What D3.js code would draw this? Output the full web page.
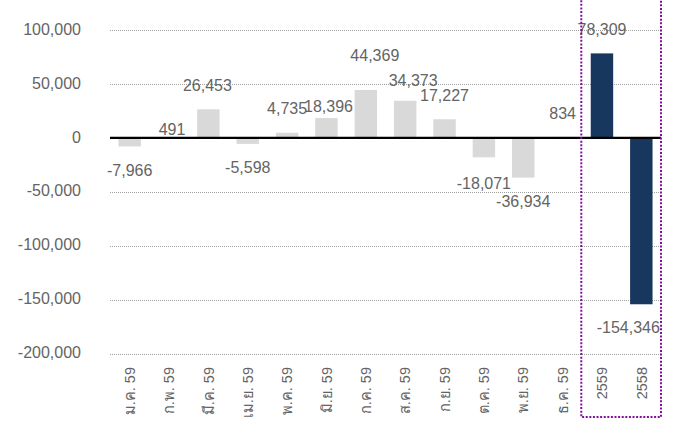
<!DOCTYPE html>
<html lang="th">
<head>
<meta charset="utf-8">
<script src="https://cdn.jsdelivr.net/npm/d3@7"></script>
<style>
  html, body { margin: 0; padding: 0; background: #ffffff; }
  svg { display: block; font-family: "Liberation Sans", Arial, "Noto Sans", sans-serif; }
</style>
</head>
<body>
<svg id="chart" width="683" height="423"></svg>
<script>
// Monthly figures for 2559 plus the two yearly totals
const categories = ["ม.ค. 59", "ก.พ. 59", "มี.ค. 59", "เม.ย. 59", "พ.ค. 59", "มิ.ย. 59",
                    "ก.ค. 59", "ส.ค. 59", "ก.ย. 59", "ต.ค. 59", "พ.ย. 59", "ธ.ค. 59",
                    "2559", "2558"];
const values = [-7966, 491, 26453, -5598, 4735, 18396, 44369, 34373, 17227, -18071, -36934, 834,
                78309, -154346];
const isTotal = [false, false, false, false, false, false, false, false, false, false, false, false,
                 true, true];
const yTicks = [100000, 50000, 0, -50000, -100000, -150000, -200000];

// Hand placement tweaks for crowded value labels: [dx, dy] in pixels
const labelNudge = [[0, 0], [3, 16], [-1, 0], [0, 0], [0, -1], [2, 12], [9, -11], [8, 3],
                    [0, 0], [0, 2], [0, 0], [0, 0], [0, 0], [-13, -1]];

const svg = d3.select("#chart");
const plotLeft = 110, plotRight = 661, plotTop = 30, plotBottom = 353.5;
const textColor = "#646464";

const x = d3.scaleBand()
  .domain(categories)
  .range([plotLeft, plotRight])
  .paddingInner(0.43)
  .paddingOuter(0.215);

const y = d3.scaleLinear()
  .domain([-200000, 100000])
  .range([plotBottom, plotTop]);

// Thousands separator with a plain hyphen for negatives
const locale = d3.formatLocale({ decimal: ".", thousands: ",", grouping: [3], currency: ["", ""], minus: "-" });
const fmt = locale.format(",");

// Dotted horizontal gridlines
svg.append("g")
  .selectAll("line")
  .data(yTicks.filter(d => d !== 0))
  .join("line")
  .attr("x1", plotLeft).attr("x2", plotRight)
  .attr("y1", d => Math.round(y(d)) + 0.5).attr("y2", d => Math.round(y(d)) + 0.5)
  .attr("stroke", "#a0a0a0")
  .attr("stroke-width", 1)
  .attr("stroke-dasharray", "1 1");

// Y axis labels
const yAxis = d3.axisLeft(y).tickValues(yTicks).tickFormat(fmt).tickSize(0).tickPadding(0);
const yg = svg.append("g").attr("transform", "translate(81,0)").call(yAxis);
yg.select(".domain").remove();
yg.selectAll("text")
  .attr("fill", textColor)
  .attr("font-size", "16px")
  .attr("font-family", "'Liberation Sans', Arial, sans-serif")
  .attr("dy", "0.26em");

// Bars
svg.append("g")
  .selectAll("rect")
  .data(values)
  .join("rect")
  .attr("x", (d, i) => x(categories[i]))
  .attr("width", x.bandwidth())
  .attr("y", d => y(Math.max(0, d)))
  .attr("height", d => Math.abs(y(d) - y(0)))
  .attr("fill", (d, i) => isTotal[i] ? "#17375e" : "#d9d9d9");

// Zero line
svg.append("line")
  .attr("x1", plotLeft).attr("x2", plotRight)
  .attr("y1", y(0)).attr("y2", y(0))
  .attr("stroke", "#000000")
  .attr("stroke-width", 2.2);

// Value labels outside the bar ends
const gap = 18, capHeight = 11.5;
svg.append("g")
  .selectAll("text")
  .data(values)
  .join("text")
  .attr("x", (d, i) => x(categories[i]) + x.bandwidth() / 2 + labelNudge[i][0])
  .attr("y", (d, i) => (d >= 0 ? y(d) - gap : y(d) + gap + capHeight) + labelNudge[i][1])
  .attr("text-anchor", "middle")
  .attr("fill", textColor)
  .attr("font-size", "16px")
  .text(d => fmt(d));

// Category labels, rotated, along the bottom
const xAxis = d3.axisBottom(x).tickSize(0).tickPadding(0);
const xg = svg.append("g").attr("transform", "translate(0,367)").call(xAxis);
xg.select(".domain").remove();
xg.selectAll("text")
  .attr("fill", textColor)
  .attr("font-size", "14.5px")
  .attr("font-family", "'Liberation Sans', Arial, 'Noto Sans', sans-serif")
  .attr("transform", "rotate(-90)")
  .attr("text-anchor", "end")
  .attr("x", 0)
  .attr("y", 0)
  .attr("dy", "0.36em");

// Dotted frame around the yearly totals
const boxLeft = x(categories[12]) - (x.step() - x.bandwidth()) / 2 - 1;
svg.append("rect")
  .attr("x", boxLeft)
  .attr("y", -6)
  .attr("width", plotRight - boxLeft)
  .attr("height", 423)
  .attr("fill", "none")
  .attr("stroke", "#820f98")
  .attr("stroke-width", 2)
  .attr("stroke-dasharray", "2 1.6");
</script>
</body>
</html>
